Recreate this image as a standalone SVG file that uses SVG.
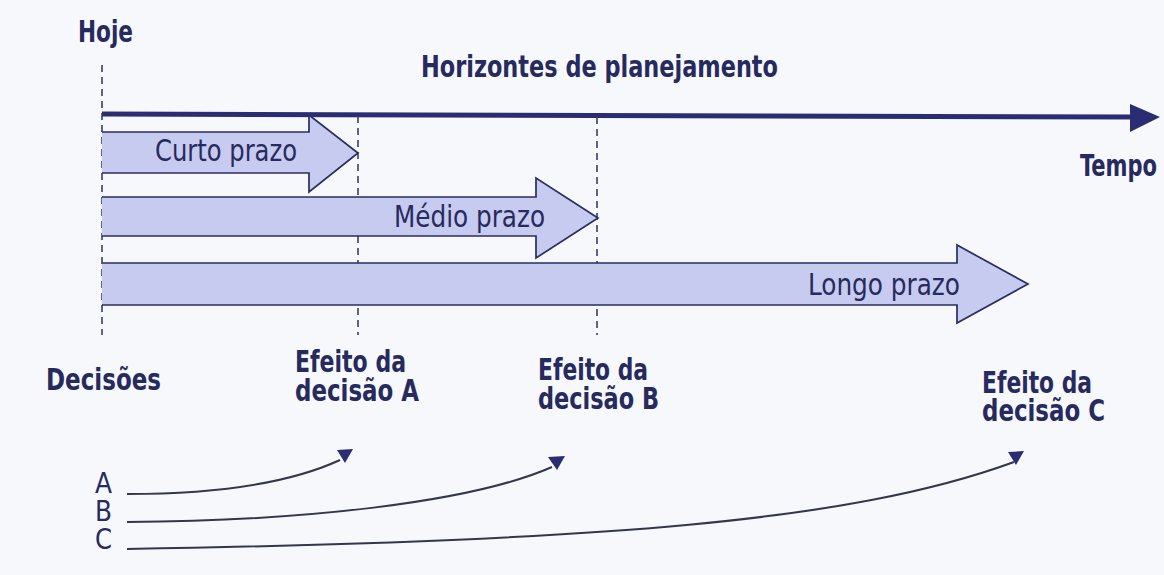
<svg xmlns="http://www.w3.org/2000/svg" width="1164" height="575" viewBox="0 0 1164 575">
<style>
.t{font-family:"Liberation Sans Narrow","DejaVu Sans Condensed","Liberation Sans",sans-serif;font-size:31px;fill:#262a5e}
.b{font-weight:bold}
.l{font-size:29px}
.arr{fill:#c6cbef;stroke:#2a2d62;stroke-width:1.7;stroke-linejoin:miter}
.dash{stroke:#3a3d70;stroke-width:1.6;stroke-dasharray:7 5;fill:none}
.cur{fill:none;stroke:#34364f;stroke-width:2}
.head{fill:#2b2d72}
</style>
<rect width="1164" height="575" fill="#f6f8fb"/>
<g id="axis">
<line x1="102" y1="114" x2="1134" y2="117" stroke="#2b2d72" stroke-width="5"/>
<polygon points="1130,104 1160,117 1130,132" fill="#2b2d72"/>
</g>
<g id="dashed-lines">
<line class="dash" x1="102" y1="65" x2="102" y2="335"/>
<line class="dash" x1="358" y1="116" x2="358" y2="335"/>
<line class="dash" x1="597" y1="117" x2="597" y2="335"/>
</g>
<g id="curto">
<path class="arr" d="M102,132 L309,132 L309,115 L358,153 L309,192 L309,173 L102,173"/>
<text class="t" x="155" y="161" textLength="142" lengthAdjust="spacingAndGlyphs">Curto prazo</text>
</g>
<g id="medio">
<path class="arr" d="M102,197 L536,197 L536,178 L598,218 L536,258 L536,236 L102,236"/>
<text class="t" x="394" y="227" textLength="151" lengthAdjust="spacingAndGlyphs">Médio prazo</text>
</g>
<g id="longo">
<path class="arr" d="M102,263 L957,263 L957,245 L1028,284 L957,323 L957,305 L102,305"/>
<text class="t" x="808" y="295" textLength="152" lengthAdjust="spacingAndGlyphs">Longo prazo</text>
</g>
<g id="hoje"><text class="t b" x="78" y="42" textLength="55" lengthAdjust="spacingAndGlyphs">Hoje</text></g>
<g id="titulo"><text class="t b" x="421" y="77" textLength="357" lengthAdjust="spacingAndGlyphs">Horizontes de planejamento</text></g>
<g id="tempo"><text class="t b" x="1157" y="176" text-anchor="end" textLength="77" lengthAdjust="spacingAndGlyphs">Tempo</text></g>
<g id="decisoes"><text class="t b" x="46" y="390" textLength="115" lengthAdjust="spacingAndGlyphs">Decisões</text></g>
<g id="efeito-a">
<text class="t b"><tspan x="295" y="372" textLength="111" lengthAdjust="spacingAndGlyphs">Efeito da</tspan><tspan x="295" y="401" textLength="124" lengthAdjust="spacingAndGlyphs">decisão A</tspan></text>
</g>
<g id="efeito-b">
<text class="t b"><tspan x="538" y="380" textLength="110" lengthAdjust="spacingAndGlyphs">Efeito da</tspan><tspan x="538" y="409" textLength="121" lengthAdjust="spacingAndGlyphs">decisão B</tspan></text>
</g>
<g id="efeito-c">
<text class="t b"><tspan x="982" y="393" textLength="110" lengthAdjust="spacingAndGlyphs">Efeito da</tspan><tspan x="982" y="421" textLength="123" lengthAdjust="spacingAndGlyphs">decisão C</tspan></text>
</g>
<g id="letras">
<text class="t l" x="95" y="493" textLength="17" lengthAdjust="spacingAndGlyphs">A</text>
<text class="t l" x="95" y="521" textLength="17" lengthAdjust="spacingAndGlyphs">B</text>
<text class="t l" x="95" y="549" textLength="17" lengthAdjust="spacingAndGlyphs">C</text>
</g>
<g id="connectors">
<path class="cur" d="M127,494 C220,494 290,483 340,460"/>
<polygon class="head" points="337,450 353,449 345,463"/>
<path class="cur" d="M127,522 C300,521 470,503 552,467"/>
<polygon class="head" points="548,457 565,456 557,470"/>
<path class="cur" d="M127,549 C600,541 850,522 1014,462"/>
<polygon class="head" points="1008,452 1024,451 1016,465"/>
</g>
</svg>
